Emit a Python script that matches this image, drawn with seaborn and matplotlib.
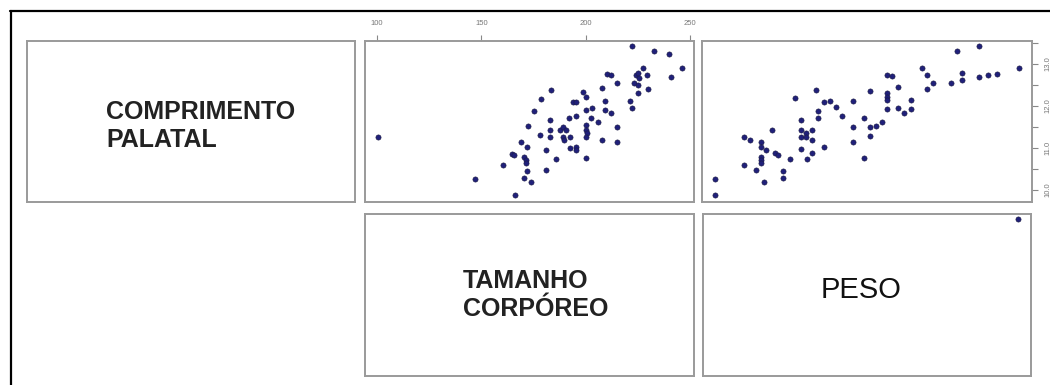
import matplotlib
matplotlib.use("Agg")
import matplotlib.pyplot as plt
import seaborn as sns
import pandas as pd
from matplotlib.lines import Line2D

# ---- data ----
tamanho = [100.2, 147.1, 165.9, 160.3, 164.7, 165.5, 169.1, 170.4, 171.2, 171.6,
           170.4, 172.0, 174.0, 172.0, 172.3, 175.2, 178.4, 178.0, 181.1, 181.1,
           183.2, 183.0, 183.0, 183.0, 185.9, 187.5, 189.1, 189.1, 189.6, 190.7,
           192.0, 192.3, 192.5, 193.9, 195.2, 195.2, 195.2, 195.2, 198.9, 200.3,
           200.3, 200.0, 200.3, 200.8, 200.3, 200.3, 202.4, 203.2, 206.1, 208.0,
           208.0, 209.3, 209.3, 210.1, 212.0, 212.3, 214.9, 214.9, 214.9, 221.3,
           222.4, 222.4, 223.2, 224.0, 224.9, 225.7, 224.9, 225.2, 227.3, 229.2,
           230.0, 232.9, 240.1, 240.9, 246.2]
palatal_t = [11.25, 10.25, 9.87, 10.60, 10.86, 10.83, 11.15, 10.79, 10.71, 10.64,
             10.29, 10.45, 10.19, 11.02, 11.52, 11.87, 12.16, 11.30, 10.94, 10.47,
             12.37, 11.67, 11.43, 11.25, 10.73, 11.43, 11.51, 11.25, 11.19, 11.43,
             11.71, 11.25, 10.99, 12.10, 12.10, 11.76, 11.02, 10.95, 12.34, 12.22,
             11.91, 11.55, 11.43, 11.35, 11.27, 10.75, 11.71, 11.96, 11.63, 12.44,
             11.19, 12.12, 11.91, 12.77, 12.74, 11.84, 12.54, 11.49, 11.13, 12.13,
             13.43, 11.95, 12.54, 12.75, 12.78, 12.66, 12.50, 12.30, 12.90, 12.75,
             12.40, 13.32, 13.25, 12.68, 12.91]

peso = [5.48, 5.48, 8.88, 9.60, 8.88, 10.32, 10.92, 10.92, 11.00, 11.00,
        11.00, 11.28, 11.60, 12.32, 12.68, 13.00, 13.60, 13.60, 14.48, 15.08,
        15.80, 15.80, 15.80, 15.80, 16.40, 16.40, 16.48, 17.12, 17.12, 17.12,
        17.52, 17.80, 17.80, 18.48, 18.48, 19.20, 19.92, 20.60, 21.92, 21.92,
        21.92, 23.28, 23.28, 24.00, 24.00, 24.00, 24.72, 25.40, 26.08, 26.08,
        26.08, 26.08, 26.08, 26.68, 27.40, 27.40, 28.12, 28.88, 28.88, 30.20,
        30.88, 30.88, 31.60, 33.68, 34.40, 35.00, 35.00, 37.00, 37.00, 38.08,
        39.20, 41.80]
palatal_w = [10.25, 9.87, 11.25, 11.19, 10.60, 10.47, 11.15, 11.03, 10.79, 10.70,
             10.64, 10.19, 10.94, 11.43, 10.87, 10.83, 10.44, 10.29, 10.73, 12.20,
             11.67, 11.43, 11.27, 10.98, 11.35, 11.27, 10.73, 11.43, 11.19, 10.89,
             12.38, 11.87, 11.71, 12.10, 11.03, 12.13, 11.97, 11.77, 12.12, 11.51,
             11.13, 11.71, 10.75, 12.36, 11.51, 11.29, 11.53, 11.63, 12.74, 12.30,
             12.22, 12.14, 11.92, 12.72, 12.45, 11.96, 11.84, 12.14, 11.92, 12.90,
             12.74, 12.40, 12.54, 12.54, 13.32, 12.78, 12.62, 13.43, 12.68, 12.75,
             12.76, 12.91]

# stray point visible in the PESO box
extra_peso = [41.8]
extra_y = [0.97]

x_ticks_t = [100, 150, 200, 250]
y_ticks_p = [10.0, 10.5, 11.0, 11.5, 12.0, 12.5, 13.0, 13.5]
y_labels_p = ["10.0", "", "11.0", "", "12.0", "", "13.0", ""]

label_palatal = "COMPRIMENTO\nPALATAL"
label_tamanho = "TAMANHO\nCORPÓREO"
label_peso = "PESO"

# ---- figure ----
sns.set_theme(style="white")
plt.rcParams["font.family"] = ["Liberation Sans", "DejaVu Sans"]

W, H = 1050, 385
fig = plt.figure(figsize=(W / 100, H / 100), dpi=100)
fig.patch.set_facecolor("white")


def box(x0, y0, x1, y1):
    return fig.add_axes([x0 / W, 1 - y1 / H, (x1 - x0) / W, (y1 - y0) / H])


a11 = box(27, 41, 355, 202)
a12 = box(365, 41, 694, 202)
a13 = box(702, 41, 1032, 202)
a22 = box(365, 214, 694, 376)
a23 = box(703, 214, 1031, 376)

frame_col = "#9a9a9a"
for ax in (a11, a12, a13, a22, a23):
    ax.set_facecolor("white")
    for s in ax.spines.values():
        s.set_color(frame_col)
        s.set_linewidth(1.4)
    ax.set_xticks([])
    ax.set_yticks([])
    ax.set_xlabel("")
    ax.set_ylabel("")

pt_col = "#20207a"
pt_kw = dict(s=14, color=pt_col, edgecolor="#1a1a40", linewidth=0.4, legend=False)

df_t = pd.DataFrame({"tamanho": tamanho, "palatal": palatal_t})
df_w = pd.DataFrame({"peso": peso, "palatal": palatal_w})
df_x = pd.DataFrame({"peso": extra_peso, "y": extra_y})

sns.scatterplot(data=df_t, x="tamanho", y="palatal", ax=a12, **pt_kw)
sns.scatterplot(data=df_w, x="peso", y="palatal", ax=a13, **pt_kw)
sns.scatterplot(data=df_x, x="peso", y="y", ax=a23, **pt_kw)

a12.set_xlim(94.2, 251.9)
a12.set_ylim(9.71, 13.55)
a13.set_xlim(3.9, 43.4)
a13.set_ylim(9.71, 13.55)
a23.set_xlim(3.9, 43.4)
a23.set_ylim(0, 1)

for ax in (a12, a13, a23):
    ax.set_xlabel("")
    ax.set_ylabel("")

# top axis on the TAMANHO column
a12.xaxis.tick_top()
a12.set_xticks(x_ticks_t)
a12.set_xticklabels([str(v) for v in x_ticks_t])
a12.tick_params(axis="x", top=True, bottom=False, direction="out", length=4,
                width=0.8, color="#888888", labelsize=5.5, labelcolor="#777777", pad=6)
a12.set_yticks([])

# right axis on the PALATAL row
a13.yaxis.tick_right()
a13.set_yticks(y_ticks_p)
a13.set_yticklabels(y_labels_p, rotation=90, va="center")
a13.tick_params(axis="y", right=True, left=False, direction="out", length=4,
                width=0.8, color="#888888", labelsize=5.5, labelcolor="#777777", pad=5)
a13.set_xticks([])

a22.set_xticks([]); a22.set_yticks([])
a23.set_xticks([]); a23.set_yticks([])

# diagonal labels
a11.text(106 / W, 1 - 126 / H, label_palatal, transform=fig.transFigure,
         ha="left", va="center", fontsize=18, fontweight="bold",
         color="#222222", linespacing=1.25)
a22.text(463 / W, 1 - 295 / H, label_tamanho, transform=fig.transFigure,
         ha="left", va="center", fontsize=18, fontweight="bold",
         color="#222222", linespacing=1.25)
a23.text(861 / W, 1 - 290 / H, label_peso, transform=fig.transFigure,
         ha="center", va="center", fontsize=21, color="#111111")

# outer frame of the screenshot
fig.add_artist(Line2D([10 / W, 1.0], [1 - 11 / H, 1 - 11 / H],
                      transform=fig.transFigure, color="black", linewidth=1.6))
fig.add_artist(Line2D([11 / W, 11 / W], [1 - 11 / H, 0.0],
                      transform=fig.transFigure, color="black", linewidth=1.6))

fig.savefig("out.png", dpi=100, facecolor="white")
